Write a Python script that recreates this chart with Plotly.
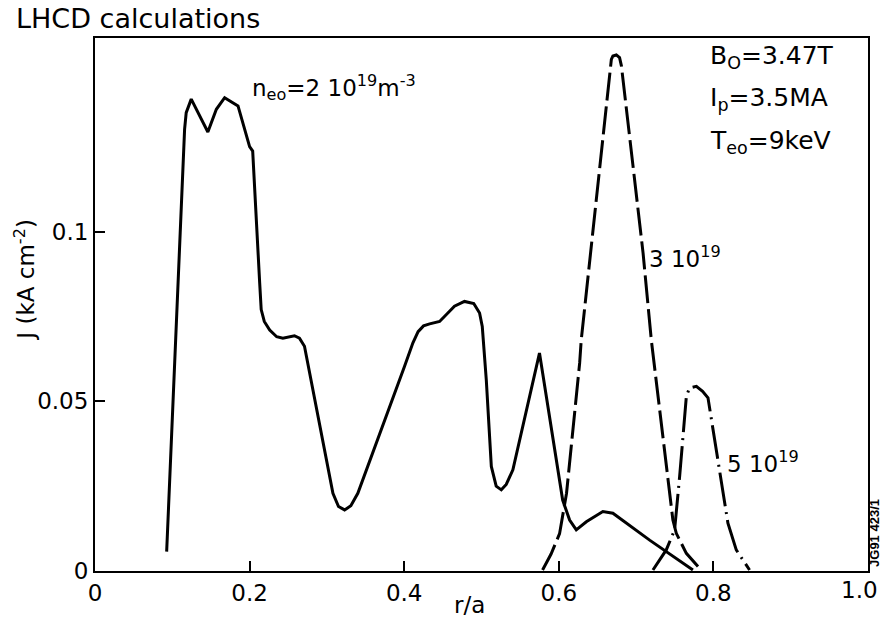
import plotly.graph_objects as go

# n_eo = 2e19 (solid)
x_n2 = [0.0927, 0.1159, 0.118, 0.1245, 0.146, 0.157, 0.1677, 0.185, 0.200, 0.204,
        0.213, 0.215, 0.219, 0.226, 0.235, 0.243, 0.258, 0.2645, 0.271, 0.3078,
        0.315, 0.3229, 0.331, 0.340, 0.400, 0.4113, 0.418, 0.425, 0.4329, 0.4458,
        0.4587, 0.465, 0.478, 0.490, 0.4975, 0.501, 0.5062, 0.5127, 0.519, 0.5256,
        0.532, 0.5406, 0.575, 0.605, 0.614, 0.6226, 0.6356, 0.657, 0.670, 0.7175,
        0.7735]
y_n2 = [0.0057, 0.1301, 0.135, 0.139, 0.1293, 0.136, 0.1394, 0.137, 0.125, 0.1237,
        0.085, 0.077, 0.0735, 0.071, 0.069, 0.0686, 0.0693, 0.0686, 0.0662, 0.0229,
        0.0190, 0.018, 0.0192, 0.0229, 0.060, 0.0672, 0.0705, 0.0722, 0.0728, 0.0735,
        0.0765, 0.0780, 0.0794, 0.0788, 0.076, 0.072, 0.0563, 0.0308, 0.0250, 0.0239,
        0.0255, 0.0298, 0.0642, 0.0209, 0.0150, 0.0121, 0.0145, 0.0175, 0.017, 0.0091,
        0.0003]

# n_eo = 3e19 (dashed)
x_n3 = [0.579, 0.590, 0.601, 0.610, 0.627, 0.629, 0.668, 0.670, 0.6744, 0.6786,
        0.681, 0.709, 0.7197, 0.7476, 0.752, 0.765, 0.7822]
y_n3 = [0.0003, 0.005, 0.011, 0.0229, 0.0613, 0.068, 0.1507, 0.1517, 0.152, 0.1512,
        0.1488, 0.0937, 0.068, 0.015, 0.0111, 0.0052, 0.0008]

# n_eo = 5e19 (dash-dot)
x_n5 = [0.7218, 0.739, 0.7498, 0.7563, 0.765, 0.769, 0.778, 0.786, 0.793, 0.8188,
        0.8296, 0.8468]
y_n5 = [0.0003, 0.0062, 0.0121, 0.0278, 0.0514, 0.0539, 0.0544, 0.0529, 0.051, 0.0141,
        0.0062, 0.0003]

x_ticks = [0, 0.2, 0.4, 0.6, 0.8, 1.0]
x_ticklabels = ["0", "0.2", "0.4", "0.6", "0.8", "1.0"]
y_ticks = [0, 0.05, 0.1]
y_ticklabels = ["0", "0.05", "0.1"]

FONT = "DejaVu Sans"
fig = go.Figure()
fig.add_trace(go.Scatter(x=x_n2, y=y_n2, mode="lines",
                         line=dict(color="black", width=3)))
fig.add_trace(go.Scatter(x=x_n3, y=y_n3, mode="lines",
                         line=dict(color="black", width=3, dash="28px,6px")))
fig.add_trace(go.Scatter(x=x_n5, y=y_n5, mode="lines",
                         line=dict(color="black", width=3, dash="34px,6px,2px,6px")))

fig.update_layout(
    width=883, height=631,
    margin=dict(l=95, r=15, t=38, b=60),
    paper_bgcolor="white", plot_bgcolor="white",
    showlegend=False,
    font=dict(family=FONT, color="black", size=23),
)
# last x tick label (at the right edge) is drawn as an annotation so it is not clipped
shown_x_labels = x_ticklabels[:-1] + [""]
fig.update_xaxes(range=[0, 1.0], tickvals=x_ticks, ticktext=shown_x_labels,
                 ticks="inside", ticklen=10, tickwidth=2, tickcolor="black",
                 showline=True, linecolor="black", linewidth=2, mirror=True,
                 showgrid=False, zeroline=False,
                 automargin=False,
                 tickfont=dict(size=23, family=FONT))
fig.update_yaxes(range=[0, 0.157], tickvals=y_ticks, ticktext=y_ticklabels,
                 ticks="inside", ticklen=10, tickwidth=2, tickcolor="black",
                 showline=True, linecolor="black", linewidth=2, mirror=True,
                 showgrid=False, zeroline=False,
                 automargin=False,
                 tickfont=dict(size=23, family=FONT))

ann = [
    dict(text="LHCD calculations", xref="paper", yref="paper", x=-0.105, y=1.037,
         xanchor="left", yanchor="middle", font=dict(size=27)),
    dict(text="J (kA cm<sup>-2</sup>)", xref="paper", yref="paper", x=-0.091, y=0.546,
         xanchor="center", yanchor="middle", textangle=-90, font=dict(size=23)),
    dict(text="r/a", xref="paper", yref="paper", x=0.4846, y=-0.064,
         xanchor="center", yanchor="middle", font=dict(size=23)),
    dict(text=x_ticklabels[-1], xref="paper", yref="paper", x=1.0155, y=-0.036,
         xanchor="right", yanchor="middle", font=dict(size=23)),
    dict(text="n<sub>eo</sub>=2 10<sup>19</sup>m<sup>-3</sup>", xref="x", yref="y",
         x=0.2, y=0.1425, xanchor="left", yanchor="middle", font=dict(size=23)),
    dict(text="B<sub>O</sub>=3.47T", xref="x", yref="y", x=0.7924, y=0.1513,
         xanchor="left", yanchor="middle", font=dict(size=25)),
    dict(text="I<sub>p</sub>=3.5MA", xref="x", yref="y", x=0.7924, y=0.139,
         xanchor="left", yanchor="middle", font=dict(size=25)),
    dict(text="T<sub>eo</sub>=9keV", xref="x", yref="y", x=0.7924, y=0.1263,
         xanchor="left", yanchor="middle", font=dict(size=25)),
    dict(text="3 10<sup>19</sup>", xref="x", yref="y", x=0.7135, y=0.0926,
         xanchor="left", yanchor="middle", font=dict(size=23)),
    dict(text="5 10<sup>19</sup>", xref="x", yref="y", x=0.8144, y=0.0322,
         xanchor="left", yanchor="middle", font=dict(size=23)),
    dict(text="<b>JG91 423/1</b>", xref="paper", yref="paper", x=1.0075, y=0.071,
         xanchor="center", yanchor="middle", textangle=-90, borderpad=0,
         font=dict(size=13, family="Liberation Sans")),
]
for a in ann:
    a["showarrow"] = False
fig.update_layout(annotations=ann)

fig.write_html("out.html")
